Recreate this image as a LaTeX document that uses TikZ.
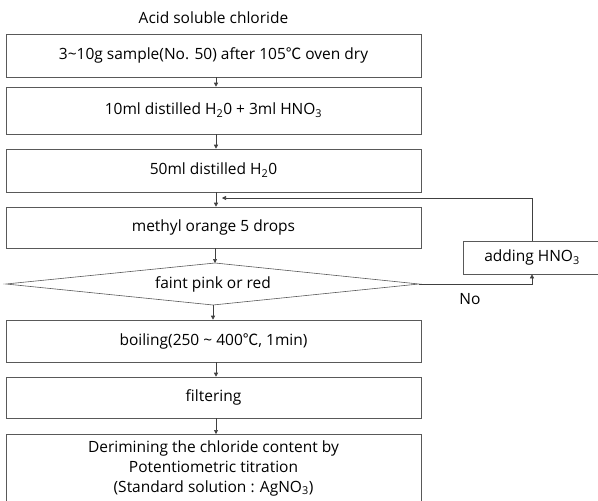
\documentclass[tikz,border=0pt]{standalone}
\usepackage{fontspec}
\setmainfont{Open Sans}
\newfontfamily\cjk{Noto Sans CJK KR}
\usetikzlibrary{arrows.meta}
\newcommand{\degC}{{\cjk ℃}}
\begin{document}
\begin{tikzpicture}[x=1pt,y=-1pt,
  every node/.style={font=\fontsize{15.5}{20}\selectfont, text=black},
  stepbox/.style={draw=black!65, line width=0.6pt, minimum width=415pt, inner sep=0pt, align=center},
  conn/.style={draw=black!75, line width=0.6pt, -{Triangle[length=4pt,width=4pt]}},
  line/.style={draw=black!65, line width=0.6pt}]
\useasboundingbox (0,0) rectangle (598,501);
\clip (0,0) rectangle (598,501);
\node (title) at (213.5,18) {Acid soluble chloride};
\node[stepbox, minimum height=43pt] (b1) at (213.5,55.5) {3\char"007E 10g sample(No. 50) after 105\degC{} oven dry};
\node[stepbox, minimum height=47pt] (b2) at (213.5,110.5) {10ml distilled H\textsubscript{2}0 + 3ml HNO\textsubscript{3}};
\node[stepbox, minimum height=43pt] (b3) at (213.5,170.5) {50ml distilled H\textsubscript{2}0};
\node[stepbox, minimum height=41pt] (b4) at (213.5,227.5) {methyl orange 5 drops};
\coordinate (dl) at (6,284);
\coordinate (dr) at (419,284);
\coordinate (dt) at (215,263);
\coordinate (db) at (213,305);
\draw[line] (dl) -- (dt) -- (dr) -- (db) -- cycle;
\node (dtext) at (213,284) {faint pink or red};
\node[stepbox, minimum height=42pt] (b5) at (213.5,341) {boiling(250 \char"007E{} 400\degC, 1min)};
\node[stepbox, minimum height=41pt] (b6) at (213.5,397.5) {filtering};
\node[stepbox, minimum height=90pt, anchor=north] (b7) at (213.5,434) {};
\node (t7) at (213.5,468) [align=center] {Derimining the chloride content by\\Potentiometric titration\\(Standard solution : AgNO\textsubscript{3})};
\node[draw=black!65, line width=0.6pt, minimum width=138pt, minimum height=33pt, inner sep=0pt] (add) at (532,257.5) {adding HNO\textsubscript{3}};
\node (no) at (470,299) {No};
\coordinate (fb) at (216,198);
\draw[conn] ([xshift=2.5pt]b1.south) -- ([xshift=2.5pt]b2.north);
\draw[conn] ([xshift=2.5pt]b2.south) -- ([xshift=2.5pt]b3.north);
\draw[conn] ([xshift=2.5pt]b3.south) -- ([xshift=2.5pt]b4.north);
\draw[conn] (b4.south -| dt) -- (dt);
\draw[conn] (db) -- (b5.north -| db);
\draw[conn] ([xshift=2.5pt]b5.south) -- ([xshift=2.5pt]b6.north);
\draw[conn] ([xshift=2.5pt]b6.south) -- ([xshift=2.5pt]b7.north);
\draw[conn] (dr) -- (dr -| add.south) -- (add.south);
\draw[conn] (add.north) -- (add.north |- fb) -- ([xshift=6pt]fb);
\end{tikzpicture}
\end{document}
